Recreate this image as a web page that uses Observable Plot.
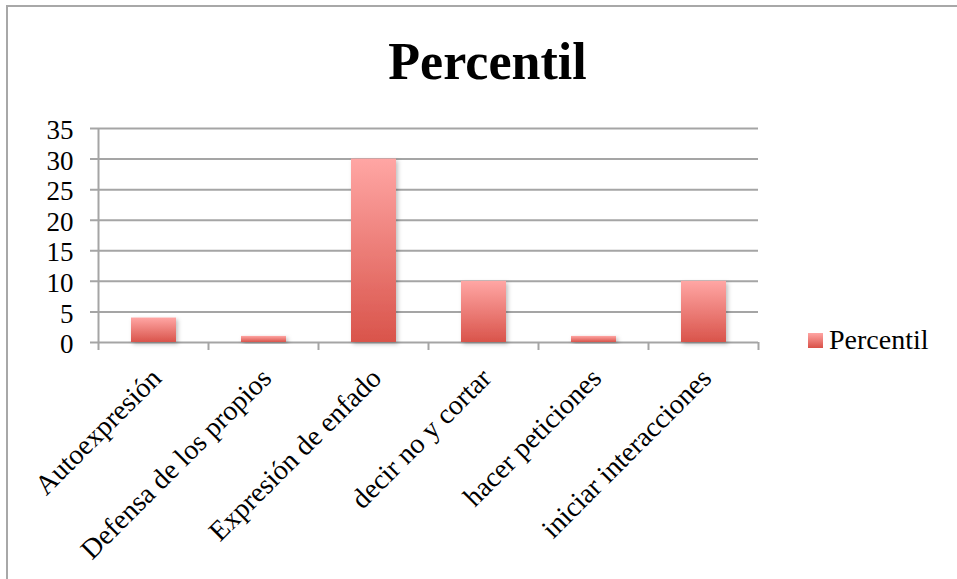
<!DOCTYPE html>
<html>
<head>
<meta charset="utf-8">
<script src="https://cdn.jsdelivr.net/npm/d3@7"></script>
<script src="https://cdn.jsdelivr.net/npm/@observablehq/plot@0.6"></script>
<style>
  html, body { margin: 0; padding: 0; background: #fff; }
  #wrap { position: relative; width: 957px; height: 579px; overflow: hidden; font-family: "Liberation Serif", serif; }
  #frame { position: absolute; left: 6px; top: 5px; width: 960px; height: 600px; border-left: 2px solid #a8a8a8; border-top: 2px solid #a8a8a8; }
  #title { position: absolute; left: 0; width: 975px; top: 32px; text-align: center; font-weight: bold; font-size: 52px; line-height: 60px; color: #000; }
  #legend { position: absolute; left: 808px; top: 326px; font-size: 28px; line-height: 28px; color: #000; display: flex; align-items: center; }
  #legend .sw { width: 15px; height: 15px; margin-right: 6px; background: linear-gradient(#ffa5a3, #d95148); }
  #chart { position: absolute; left: 0; top: 0; }
</style>
</head>
<body>
<div id="wrap">
  <div id="frame"></div>
  <div id="chart"></div>
  <div id="title"></div>
  <div id="legend"><div class="sw"></div><span id="legtext"></span></div>
</div>
<script>
const title = "Percentil";
const seriesName = "Percentil";
const categories = ["Autoexpresión", "Defensa de los propios", "Expresión de enfado", "decir no y cortar", "hacer peticiones", "iniciar interacciones"];
const values = [4, 1, 30, 10, 1, 10];
const yTicks = [0, 5, 10, 15, 20, 25, 30, 35];

document.getElementById("title").textContent = title;
document.getElementById("legtext").textContent = seriesName;

const data = categories.map((c, i) => ({i, category: c, value: values[i]}));
const boundaries = d3.range(categories.length + 1);
const grey = "#a5a5a5";

const chart = Plot.plot({
  width: 957,
  height: 579,
  marginLeft: 98,
  marginRight: 199,
  marginTop: 128,
  marginBottom: 237,
  style: {fontFamily: "Liberation Serif, serif", fontSize: "27px", color: "#000", background: "transparent", overflow: "visible"},
  x: {domain: [0, categories.length], axis: null},
  y: {domain: [0, 35], axis: null},
  marks: [
    Plot.ruleY(yTicks, {stroke: grey, strokeWidth: 2, insetLeft: -8}),
    Plot.ruleX([0], {stroke: grey, strokeWidth: 2, insetBottom: -8}),
    Plot.ruleX(boundaries.slice(1), {y1: 0, y2: 0, stroke: grey, strokeWidth: 2, insetBottom: -8}),
    Plot.rectY(data, {x1: "i", x2: d => d.i + 1, y: "value", insetLeft: 33, insetRight: 32, fill: "url(#barGrad)", className: "bars"}),
    Plot.text(yTicks, {x: 0, y: d => d, text: d => String(d), textAnchor: "end", dx: -25, dy: 2, fill: "#000"}),
    Plot.text(data, {x: d => d.i + 0.5, y: () => 0, text: "category", rotate: -45, textAnchor: "end", lineAnchor: "middle", dx: 3, dy: 31, fill: "#000", fontSize: 28})
  ]
});

const ns = "http://www.w3.org/2000/svg";
const defs = document.createElementNS(ns, "defs");
defs.innerHTML = `
  <linearGradient id="barGrad" x1="0" y1="0" x2="0" y2="1">
    <stop offset="0" stop-color="#ffa6a4"/>
    <stop offset="1" stop-color="#d9544b"/>
  </linearGradient>
  <filter id="barShadow" x="-20%" y="-20%" width="150%" height="150%">
    <feDropShadow dx="2" dy="2" stdDeviation="2" flood-color="#000" flood-opacity="0.25"/>
  </filter>`;
chart.insertBefore(defs, chart.firstChild);
chart.querySelectorAll("g[aria-label='rect'] rect").forEach(r => r.setAttribute("filter", "url(#barShadow)"));
document.getElementById("chart").appendChild(chart);
</script>
</body>
</html>
